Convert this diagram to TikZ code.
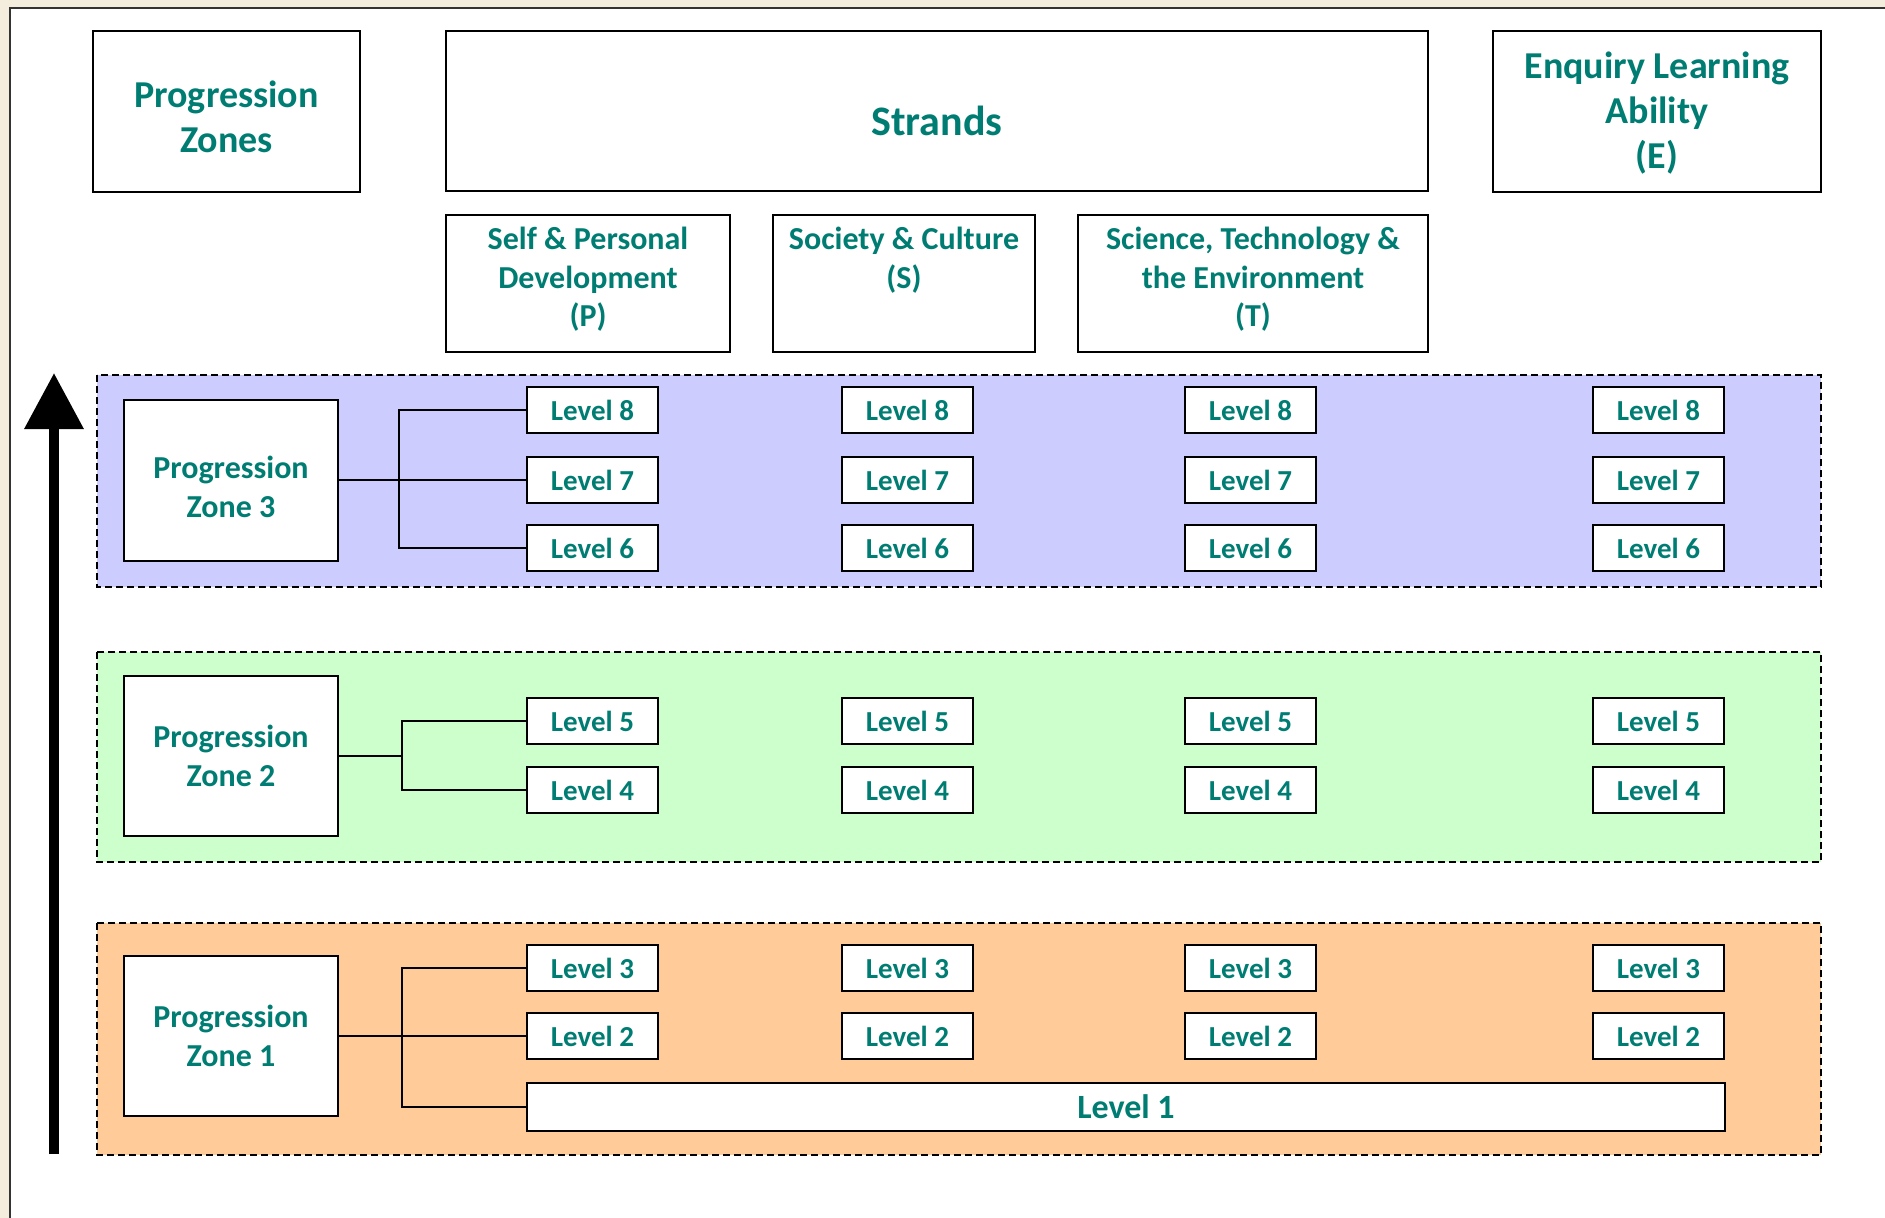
\documentclass[tikz,border=0pt]{standalone}
\usepackage{fontspec}
\setmainfont{Carlito}
\usetikzlibrary{arrows.meta}
\definecolor{tealtxt}{RGB}{0,125,115}
\definecolor{bgbeige}{RGB}{244,236,220}
\definecolor{zthree}{RGB}{204,204,255}
\definecolor{ztwo}{RGB}{204,255,204}
\definecolor{zone}{RGB}{255,204,153}
\begin{document}
\begin{tikzpicture}[x=1pt,y=-1pt,
  box/.style={draw=black,line width=2pt,fill=white,inner sep=0pt},
  ttl/.style={font=\fontsize{38}{45}\selectfont\bfseries,text=tealtxt,align=center},
  sub/.style={font=\fontsize{32}{38.5}\selectfont\bfseries,text=tealtxt,align=center,inner sep=0pt},
  zbox/.style={box,minimum width=214pt,minimum height=160pt,font=\fontsize{32}{38.5}\selectfont\bfseries,text=tealtxt,align=center},
  lvl/.style={box,minimum width=131pt,minimum height=46pt,font=\fontsize{29}{34}\selectfont\bfseries,text=tealtxt},
  band/.style={draw=black,line width=2.2pt,dash pattern=on 7pt off 4pt},
  conn/.style={draw=black,line width=1.8pt}]
\useasboundingbox (0,0) rectangle (1885,1218);
\fill[bgbeige] (0,0) rectangle (1885,1218);
\fill[white] (10,8) rectangle (1885,1218);
\draw[line width=2pt,black!80] (10,1218) -- (10,8) -- (1885,8);

% header boxes
\node[box,minimum width=267pt,minimum height=161pt] (pz) at (226.5,111.5) {};
\node[ttl] (pzt) at (226.5,117) {Progression\\Zones};
\node[box,minimum width=982pt,minimum height=160pt] (strands) at (937,111) {};
\node[font=\fontsize{42}{50}\selectfont\bfseries,text=tealtxt] (strt) at (937,121) {Strands};
\node[box,minimum width=328pt,minimum height=161pt] (ela) at (1657,111.5) {};
\node[ttl] (elat) at (1657,113.5) {Enquiry Learning\\Ability\\(E)};

% strand boxes
\node[box,minimum width=284pt,minimum height=137pt] (sp) at (588,283.5) {};
\node[box,minimum width=262pt,minimum height=137pt] (ss) at (904,283.5) {};
\node[box,minimum width=350pt,minimum height=137pt] (st) at (1253,283.5) {};
\node[sub,anchor=north] (spt) at (588,227) {Self \& Personal\\Development\\(P)};
\node[sub,anchor=north] (sst) at (904,227) {Society \& Culture\\(S)};
\node[sub,anchor=north] (stt) at (1253,227) {Science, Technology \&\\the Environment\\(T)};

% zone bands
\path[band,fill=zthree] (97,375) rectangle (1821,587);
\path[band,fill=ztwo] (97,652) rectangle (1821,862);
\path[band,fill=zone] (97,923) rectangle (1821,1155);

% progression arrow
\coordinate (arrS) at (54,1154);
\coordinate (arrE) at (54,373);
\draw[line width=10pt,-{Triangle[width=57pt,length=56pt]}] (arrS) -- (arrE);

% zone boxes
\node[zbox,minimum height=161pt] (z3) at (231,480) {};
\node[font=\fontsize{32}{38.5}\selectfont\bfseries,text=tealtxt,align=center] (z3t) at (231,487) {Progression\\Zone 3};
\node[zbox] (z2) at (231,756) {Progression\\Zone 2};
\node[zbox] (z1) at (231,1036) {Progression\\Zone 1};

% level boxes
\foreach \c/\x in {1/592.5,2/907.5,3/1250.5,4/1658.5}{
  \node[lvl] (l8-\c) at (\x,410) {Level 8};
  \node[lvl] (l7-\c) at (\x,480) {Level 7};
  \node[lvl] (l6-\c) at (\x,548) {Level 6};
  \node[lvl] (l5-\c) at (\x,721) {Level 5};
  \node[lvl] (l4-\c) at (\x,790) {Level 4};
  \node[lvl] (l3-\c) at (\x,968) {Level 3};
  \node[lvl] (l2-\c) at (\x,1036) {Level 2};
}
\node[box,minimum width=1198pt,minimum height=48pt,font=\fontsize{34}{40}\selectfont\bfseries,text=tealtxt] (l1) at (1126,1107) {Level 1};

% connectors
\draw[conn] (z3.east) -- (l7-1.west);
\draw[conn] (l8-1.west) -- ++(-127,0) coordinate (b3) |- (l6-1.west);
\draw[conn] (z2.east) -- (403,756) coordinate (b2);
\draw[conn] (l5-1.west) -- ++(-124,0) |- (l4-1.west);
\draw[conn] (z1.east) -- (l2-1.west);
\draw[conn] (l3-1.west) -- ++(-124,0) coordinate (b1) |- (l1.west);
\end{tikzpicture}
\end{document}
